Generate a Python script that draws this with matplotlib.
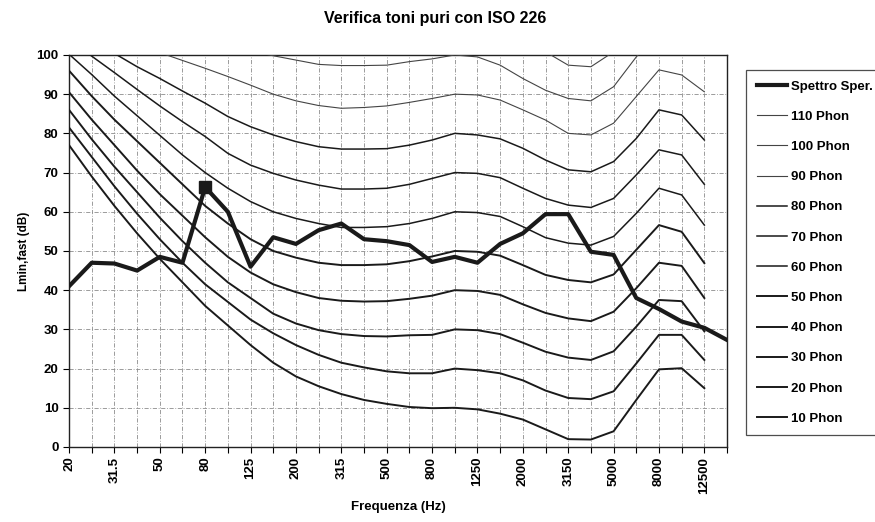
import matplotlib
matplotlib.use("Agg")
import matplotlib.pyplot as plt

plt.rcParams['font.family'] = ['Liberation Sans', 'DejaVu Sans']
plt.rcParams['font.weight'] = 'bold'

# third-octave bands (Hz)
freqs = ["20", "25", "31.5", "40", "50", "63", "80", "100", "125", "160",
         "200", "250", "315", "400", "500", "630", "800", "1000", "1250", "1600",
         "2000", "2500", "3150", "4000", "5000", "6300", "8000", "10000", "12500", "16000"]

# measured spectrum, Lmin,fast (dB)
spettro = [41, 47, 46.8, 45, 48.5, 47, 66.3, 60, 46, 53.5,
           51.8, 55.3, 57, 53, 52.5, 51.5, 47.2, 48.5, 47, 51.8,
           54.5, 59.4, 59.4, 49.8, 49, 38, 35.2, 32, 30.4, 27.3]
peak_band = 6   # band marked with a square

# ISO 226 equal loudness curves, 20 Hz .. 12500 Hz
phon_110 = [130, 127, 124, 121, 118, 116, 114, 112, 110.5, 109.5,
            108.5, 107.5, 107, 107, 107, 107.5, 108.5, 109.5, 109.5, 107,
            104, 100.8, 97.4, 97, 100.8, 108, 115, 114, 110]
phon_100 = [122, 119, 116, 113, 110, 107.5, 105, 103, 101, 99.8,
            98.7, 97.6, 97.3, 97.3, 97.4, 98.3, 99, 100, 99.5, 97.4,
            94, 91, 88.9, 88.3, 91.9, 99.5, 106, 105, 102]
phon_90 = [113, 110, 107, 104, 100.6, 98.6, 96.6, 94.5, 92.3, 90,
           88.3, 87.1, 86.4, 86.6, 87, 87.9, 88.9, 90, 89.8, 88.5,
           86, 83.4, 80, 79.6, 82.6, 89.4, 96.2, 94.9, 90.6]
phon_80 = [108, 104, 100.4, 97, 94, 90.8, 87.7, 84.3, 81.7, 79.6,
           77.9, 76.6, 76, 76, 76.1, 77, 78.3, 80, 79.6, 78.6,
           76.2, 73.2, 70.7, 70.2, 72.8, 78.7, 86, 84.7, 78.3]
phon_70 = [104, 99.7, 95.5, 91.2, 87, 83, 79.2, 74.9, 71.9, 69.8,
           68.1, 66.8, 65.8, 65.8, 66, 67, 68.5, 70, 69.8, 68.7,
           66, 63.4, 61.7, 61.1, 63.4, 69.4, 75.8, 74.5, 67]
phon_60 = [100.2, 95, 89.5, 84.5, 79.5, 74.5, 70, 66, 62.6, 60,
           58.3, 57, 56, 56, 56.2, 57, 58.3, 60, 59.8, 58.8,
           56.2, 53.4, 52, 51.5, 53.7, 59.6, 66, 64.3, 56.6]
phon_50 = [96, 89.5, 83.5, 78, 72.5, 67, 61.5, 57, 53, 50,
           48.3, 47, 46.4, 46.4, 46.6, 47.4, 48.6, 50, 49.8, 48.8,
           46.4, 43.9, 42.6, 42, 44, 50.3, 56.6, 54.9, 46.9]
phon_40 = [90.5, 83.5, 77, 70.5, 64.5, 59, 53.5, 48.5, 44.5, 41.5,
           39.5, 38, 37.3, 37.1, 37.2, 37.8, 38.6, 40, 39.8, 38.8,
           36.4, 34.2, 32.8, 32.1, 34.5, 40.5, 47, 46.2, 38]
phon_30 = [86, 78.5, 71.5, 65, 58.5, 52.5, 47, 42, 38, 34,
           31.5, 29.8, 28.8, 28.3, 28.2, 28.5, 28.6, 30, 29.8, 28.8,
           26.6, 24.3, 22.8, 22.2, 24.4, 30.7, 37.5, 37.2, 29.5]
phon_20 = [81.5, 74, 66.5, 59.5, 53, 47, 41.5, 37, 32.5, 29,
           26, 23.5, 21.5, 20.3, 19.3, 18.8, 18.8, 20, 19.6, 18.8,
           17, 14.4, 12.5, 12.2, 14.2, 21.3, 28.6, 28.6, 22.2]
phon_10 = [77, 69, 61.5, 54.5, 48, 42, 36, 31, 26, 21.5,
           18, 15.5, 13.5, 12, 11, 10.2, 9.9, 10, 9.6, 8.5,
           7, 4.5, 2, 1.9, 4, 12, 19.8, 20.1, 15]

curves = [("110 Phon", phon_110), ("100 Phon", phon_100), ("90 Phon", phon_90),
          ("80 Phon", phon_80), ("70 Phon", phon_70), ("60 Phon", phon_60),
          ("50 Phon", phon_50), ("40 Phon", phon_40), ("30 Phon", phon_30),
          ("20 Phon", phon_20), ("10 Phon", phon_10)]

fig = plt.figure(figsize=(8.75, 5.22), dpi=100)
ax = fig.add_axes([0.0789, 0.1437, 0.752, 0.751])

x_sp = list(range(len(spettro)))
ax.plot(x_sp, spettro, color='#1a1a1a', lw=3.0, label="Spettro Sper.", zorder=5)
ax.plot([peak_band], [spettro[peak_band]], linestyle='none', marker='s',
        markersize=8, color='#1a1a1a', zorder=6)

for k, (name, vals) in enumerate(curves):
    lw = 0.8 if k < 3 else (1.1 if k < 6 else 1.4)
    col = '#444444' if k < 3 else '#1a1a1a'
    ax.plot(range(len(vals)), vals, color=col, lw=lw, label=name, zorder=3)

ax.set_xlim(0, len(freqs) - 1)
ax.set_ylim(0, 100)
ax.set_yticks(range(0, 101, 10))
ax.set_xticks(range(len(freqs)))
ax.set_xticklabels([f if i % 2 == 0 else "" for i, f in enumerate(freqs)],
                   rotation=90, fontsize=9.5, fontweight='bold')
ax.tick_params(axis='y', labelsize=9.5, direction='out', length=4, width=0.8)
ax.tick_params(axis='x', direction='out', length=4, width=0.8, pad=3)
for lab in ax.get_yticklabels():
    lab.set_fontweight('bold')

ax.grid(True, color='#8c8c8c', lw=0.6, linestyle=(0, (5, 2, 1, 2)))
ax.set_axisbelow(True)
for s in ax.spines.values():
    s.set_color('#222222')
    s.set_linewidth(1.0)

ax.set_xlabel("Frequenza (Hz)", fontsize=9.5, fontweight='bold', labelpad=5)
ax.set_ylabel("Lmin,fast (dB)", fontsize=8.5, fontweight='bold', labelpad=5)
fig.text(0.497, 0.965, "Verifica toni puri con ISO 226", ha='center', va='center',
         fontsize=11.5, fontweight='bold')

leg = fig.legend(loc='upper left', bbox_to_anchor=(0.853, 0.866), frameon=True,
                 fancybox=False, edgecolor='#222222', fontsize=9.5,
                 labelspacing=1.36, handlelength=2.3, handletextpad=0.25,
                 borderpad=0.8, borderaxespad=0)
leg.get_frame().set_linewidth(0.9)
for t in leg.get_texts():
    t.set_fontweight('bold')

fig.savefig("out.png", dpi=100)
